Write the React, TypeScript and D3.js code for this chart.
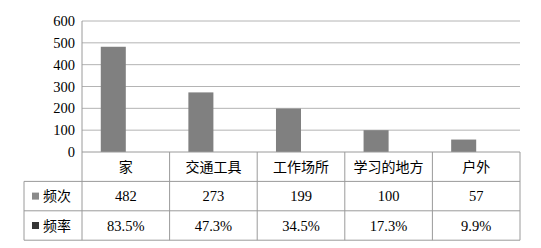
import React from "react";
import * as d3 from "d3";

const categories = ["家", "交通工具", "工作场所", "学习的地方", "户外"];
const counts = [482, 273, 199, 100, 57];
const rates = [0.835, 0.473, 0.345, 0.173, 0.099];
const yTicks = [0, 100, 200, 300, 400, 500, 600];
const seriesNames = ["频次", "频率"];
const seriesColors = ["#8a8a8a", "#363636"];

const W = 541, H = 248;
const left = 82, right = 520, top = 21, bottom = 152;
const rowH = 29.4;
const tableLeft = 24;
const font = "'Liberation Serif', 'Noto Sans CJK SC', serif";

export default function App() {
  const x = d3.scaleBand<string>().domain(categories).range([left, right]).paddingInner(0).paddingOuter(0);
  const bw = x.bandwidth() / 3.5;
  const y = d3.scaleLinear().domain([0, 600]).range([bottom, top]);
  const gridColor = "#b4b4b4";
  const borderColor = "#9a9a9a";
  const fmt = d3.format(".1%");
  const rows = [counts.map(String), rates.map(r => fmt(r))];
  const tableBottom = bottom + rowH * 3;
  return (
    <svg width={W} height={H} style={{ position: "absolute", left: 0, top: 0, background: "#fff" }}>
      {yTicks.filter(t => t > 0).map(t => (
        <line key={t} x1={left} x2={right} y1={y(t)} y2={y(t)} stroke={gridColor} strokeWidth={1} />
      ))}
      {yTicks.map(t => (
        <text key={t} x={75} y={y(t)} dy="0.35em" textAnchor="end" fontFamily={font} fontSize={14.5} fill="#000">{t}</text>
      ))}
      {categories.map((c, i) => (
        <rect key={c} x={(x(c) as number) + bw * 0.75} y={y(counts[i])} width={bw} height={bottom - y(counts[i])} fill="#808080" />
      ))}
      <line x1={left} x2={left} y1={top} y2={tableBottom} stroke={borderColor} strokeWidth={1} />
      <line x1={left} x2={right} y1={bottom} y2={bottom} stroke={borderColor} />
      {[1, 2, 3].map(r => (
        <line key={r} x1={tableLeft} x2={right} y1={bottom + rowH * r} y2={bottom + rowH * r} stroke={borderColor} />
      ))}
      <line x1={tableLeft} x2={tableLeft} y1={bottom + rowH} y2={tableBottom} stroke={borderColor} />
      {categories.map(c => (
        <line key={c + "v"} x1={(x(c) as number) + x.bandwidth()} x2={(x(c) as number) + x.bandwidth()} y1={bottom} y2={tableBottom} stroke={borderColor} />
      ))}
      {categories.map(c => (
        <text key={c + "t"} x={(x(c) as number) + x.bandwidth() / 2} y={bottom + rowH / 2} dy="0.36em" textAnchor="middle" fontFamily={font} fontSize={14} fill="#000">{c}</text>
      ))}
      {rows.map((row, r) => row.map((v, i) => (
        <text key={r + "-" + i} x={(x(categories[i]) as number) + x.bandwidth() / 2} y={bottom + rowH * (r + 1.5)} dy="0.36em" textAnchor="middle" fontFamily={font} fontSize={14.5} fill="#000">{v}</text>
      )))}
      {seriesNames.map((s, r) => (
        <g key={s}>
          <rect x={32} y={bottom + rowH * (r + 1.5) - 3.5} width={7} height={7} fill={seriesColors[r]} />
          <text x={43} y={bottom + rowH * (r + 1.5)} dy="0.36em" fontFamily={font} fontSize={14} fill="#000">{s}</text>
        </g>
      ))}
    </svg>
  );
}
